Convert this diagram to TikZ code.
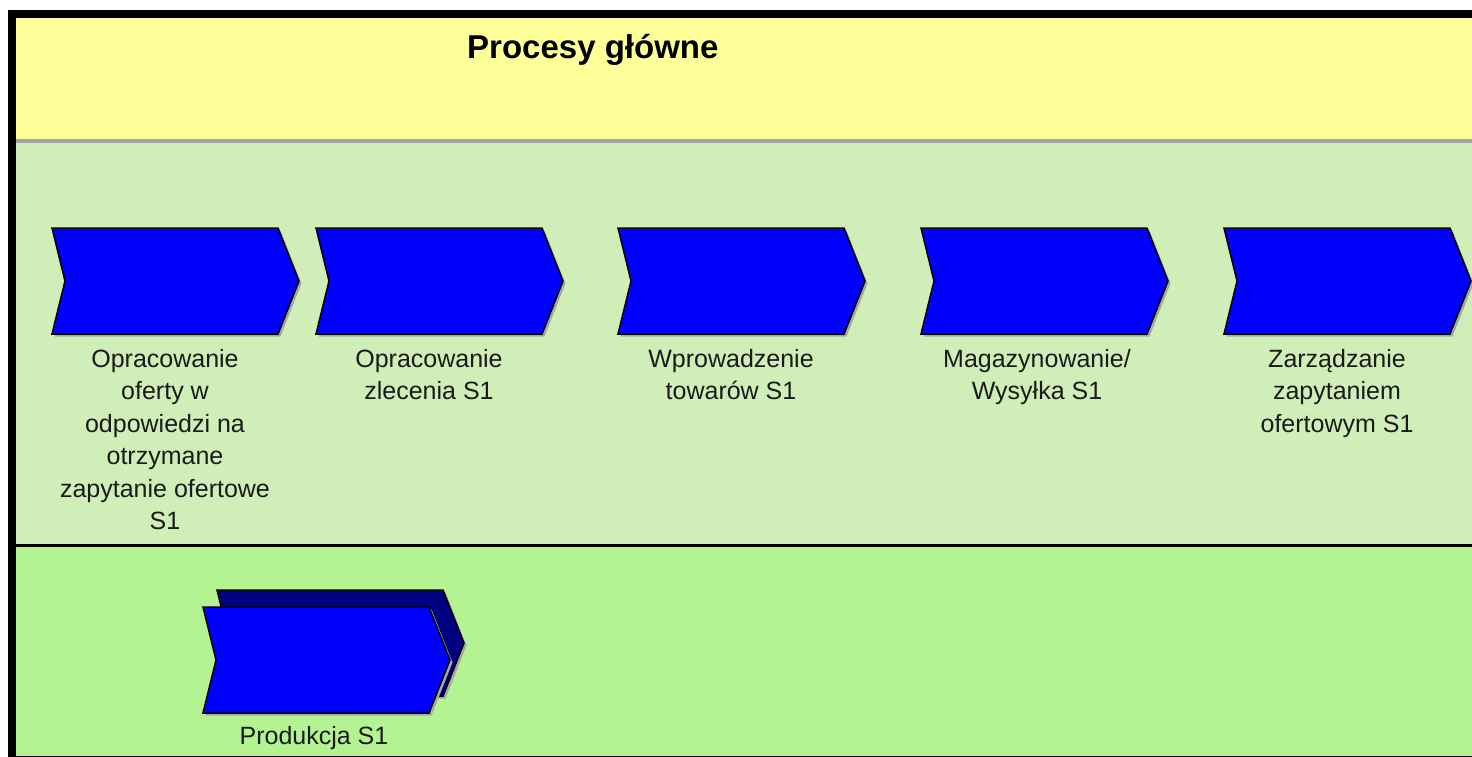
\documentclass[tikz,border=0pt]{standalone}
\usepackage{fontspec}
\setmainfont{Liberation Sans}
\definecolor{lanebg}{HTML}{FFFF99}
\definecolor{lightlane}{HTML}{D0EEB8}
\definecolor{brightlane}{HTML}{B3F391}
\definecolor{sepgray}{HTML}{A4A4A4}
\definecolor{chevblue}{HTML}{0000FF}
\definecolor{chevnavy}{HTML}{000080}
\definecolor{txt}{HTML}{1A1A1A}
\tikzset{
  chevpath/.style={line width=1.5pt, draw=black, line join=miter},
  chevshadow/.style={fill=black!35, draw=none},
  lbl/.style={anchor=north, inner sep=0pt, align=center, text=txt,
    font=\fontsize{25}{32.5}\selectfont},
  pics/chev/.style={code={
    \fill[chevshadow] (2.5,2.5) -- (228.5,2.5) -- (249.5,55.5) -- (228.5,108.5) -- (2.5,108.5) -- (15.5,55.5) -- cycle;
    \filldraw[chevpath, fill=#1] (0,0) -- (226,0) -- (247,53) -- (226,106) -- (0,106) -- (13,53) -- cycle;
    \coordinate (-c) at (113,53);
  }},
}
\begin{document}
\begin{tikzpicture}[x=1pt,y=-1pt]
\useasboundingbox (0,0) rectangle (1472,757);
\fill[white] (0,0) rectangle (1472,757);
% lanes
\fill[lanebg] (16,18) rectangle (1472,140);
\fill[sepgray] (16,139.5) rectangle (1472,143.5);
\fill[lightlane] (16,143.5) rectangle (1472,544);
\fill[black] (16,544) rectangle (1472,547);
\fill[brightlane] (16,547) rectangle (1472,756);
\fill[black] (16,755.8) rectangle (1472,757);
\fill[black] (8,10) rectangle (1472,18);
\fill[black] (8,10) rectangle (16,757);
% title
\node[anchor=north west, inner sep=0pt, font=\fontsize{33}{39}\selectfont\bfseries, text=black] (title) at (467,34) {Procesy główne};
% chevrons
\pic (c1) at (52,228) {chev=chevblue};
\pic (c2) at (316,228) {chev=chevblue};
\pic (c3) at (618,228) {chev=chevblue};
\pic (c4) at (921,228) {chev=chevblue};
\pic (c5) at (1224,228) {chev=chevblue};
\pic (p0) at (217,590) {chev=chevnavy};
\pic (p1) at (203,607) {chev=chevblue};
% labels
\node[lbl] (l1) at (165,349) {Opracowanie\\oferty w\\odpowiedzi na\\otrzymane\\zapytanie ofertowe\\S1};
\node[lbl] (l2) at (429,349) {Opracowanie\\zlecenia S1};
\node[lbl] (l3) at (731,349) {Wprowadzenie\\towarów S1};
\node[lbl] (l4) at (1037,349) {Magazynowanie/\\Wysyłka S1};
\node[lbl] (l5) at (1337,349) {Zarządzanie\\zapytaniem\\ofertowym S1};
\node[lbl] (l6) at (314,726) {Produkcja S1};
\end{tikzpicture}
\end{document}
